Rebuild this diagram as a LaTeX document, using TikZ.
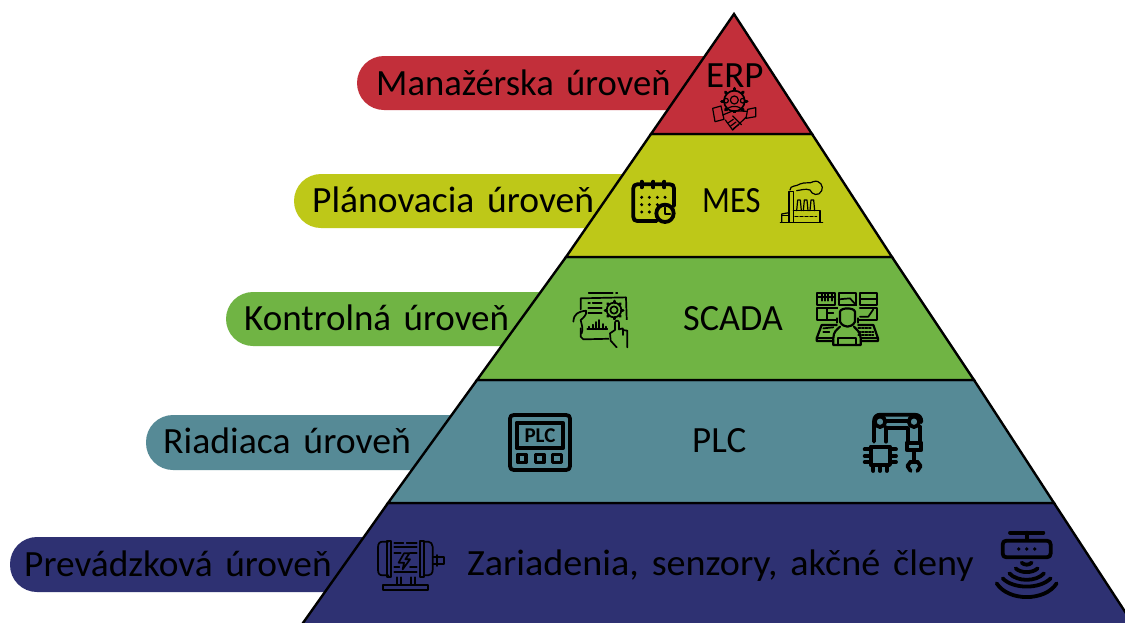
\documentclass[tikz,border=0pt]{standalone}
\usepackage{fontspec}
\setmainfont[WordSpace=1.5]{Carlito}
\definecolor{cred}{HTML}{C22F3A}
\definecolor{cyel}{HTML}{BEC818}
\definecolor{cgrn}{HTML}{70B444}
\definecolor{cteal}{HTML}{568A96}
\definecolor{cnavy}{HTML}{2E3172}
\tikzset{
  pill/.style={fill=#1,rounded corners=27pt},
  layer/.style={fill=#1,draw=black,line width=2.4pt,line join=miter},
  lab/.style={font=\fontsize{37}{37}\selectfont,text=black,inner sep=0pt,anchor=base west},
  ict/.style={draw=black,line width=1.2pt,line cap=round,line join=round,fill=none},
  ic/.style={draw=black,line width=1.7pt,line cap=round,line join=round,fill=none},
  icm/.style={draw=black,line width=2.2pt,line cap=round,line join=round,fill=none},
  icb/.style={draw=black,line width=3.8pt,line cap=round,line join=round,fill=none},
  zoomed/.style={x=0.33333pt,y=-0.33333pt}
}
\begin{document}
\begin{tikzpicture}[x=1pt,y=-1pt]
\useasboundingbox (0,0) rectangle (1125,622);
\fill[white] (0,0) rectangle (1125,622);
% pills
\fill[pill=cred]  (357,56)  rectangle (760,110);
\fill[pill=cyel]  (294,174) rectangle (680,228);
\fill[pill=cgrn]  (226,292) rectangle (600,346);
\fill[pill=cteal] (146,415) rectangle (520,470);
\fill[pill=cnavy] (10,537)  rectangle (440,592);
% layers
\draw[layer=cnavy] (388,503) -- (1054,503) -- (1137,630) -- (298,630) -- cycle;
\draw[layer=cteal] (477,380) -- (974,380) -- (1054,503) -- (388,503) -- cycle;
\draw[layer=cgrn]  (566,257) -- (892,257) -- (974,380) -- (477,380) -- cycle;
\draw[layer=cyel]  (651,134) -- (812,134) -- (892,257) -- (566,257) -- cycle;
\draw[layer=cred]  (734,14) -- (812,134) -- (651,134) -- cycle;
% labels
\node[lab] (l1) at (376,95)  {\scalebox{0.99}[1]{Manažérska úroveň}};
\node[lab] (l2) at (312,212) {\scalebox{1.015}[1]{Plánovacia úroveň}};
\node[lab] (l3) at (244,330) {\scalebox{1.0}[1]{Kontrolná úroveň}};
\node[lab] (l4) at (163,453) {\scalebox{1.02}[1]{Riadiaca úroveň}};
\node[lab] (l5) at (24,576)  {\scalebox{1.01}[1]{Prevádzková úroveň}};
\node[lab] (t1) at (706,87)  {ERP};
\node[lab] (t2) at (702,212) {\scalebox{0.88}[1]{MES}};
\node[lab] (t3) at (683,330) {\scalebox{0.98}[1]{SCADA}};
\node[lab] (t4) at (692,452) {PLC};
\node[lab] (t5) at (467,575) {\scalebox{1.03}[1]{Zariadenia, senzory, akčné členy}};

% ERP icon
\begin{scope}[shift={(620pt,0pt)},zoomed]
\draw[ic] (343,303) circle (31);
\foreach \a in {0,45,...,315}{\draw[ic,line width=3pt] (343,303)++(\a:33) -- ++(\a:5);}
\draw[ict] (343,300) circle (12);
\draw[ict] (321,332) .. controls (321,315) and (365,315) .. (365,332);
\draw[ict] (318,302) circle (7); \draw[ict] (368,302) circle (7);
\fill[cred] (312,338) rectangle (376,392);
\draw[ict] (278,325) -- (303,318) -- (312,358) -- (285,365) -- cycle;
\draw[ict] (407,323) -- (383,328) -- (378,355) -- (407,350) -- cycle;
\draw[ict] (308,345) -- (340,332) -- (380,334);
\draw[ict] (316,360) -- (338,390) -- (378,352);
\draw[ict] (338,348) -- (364,374);
\draw[ict] (325,368) -- (340,358); \draw[ict] (332,378) -- (348,366); \draw[ict] (340,386) -- (356,374);
\end{scope}

% calendar
\begin{scope}[shift={(620pt,0pt)},zoomed]
\draw[icb] (110,663) -- (52,663) .. controls (44,663) and (40,659) .. (40,651) -- (40,565) .. controls (40,557) and (44,553) .. (52,553) -- (150,553) .. controls (158,553) and (162,557) .. (162,565) -- (162,618);
\draw[icb] (65,545) -- (65,562); \draw[icb] (100,545) -- (100,562); \draw[icb] (133,545) -- (133,562);
\draw[icb] (135,640) circle (26);
\draw[ic,line width=2.4pt] (135,623) -- (135,642) -- (150,642);
\foreach \x in {65,88,112,135}{\fill (\x,592) circle (5);}
\foreach \x in {65,88,112}{\fill (\x,614) circle (5);}
\foreach \x in {65,88}{\fill (\x,636) circle (5);}
\end{scope}

% factory
\begin{scope}[shift={(620pt,0pt)},zoomed]
\draw[ict] (481,667) -- (608,667);
\draw[ict] (507,667) -- (507,575) -- (520,575) -- (520,667);
\draw[ict] (485,667) -- (485,642) -- (507,638);
\draw[ict] (520,632) -- (600,632) -- (600,667);
\draw[ict] (485,646) -- (507,646);
\draw[ict] (530,632) -- (533,600) -- (541,600) -- (544,632);
\draw[ict] (550,632) -- (553,600) -- (561,600) -- (564,632);
\draw[ict] (570,632) -- (573,600) -- (581,600) -- (584,632);
\draw[ict,dash pattern=on 3pt off 2pt] (525,649) -- (590,649);
\draw[ict] (510,570) .. controls (510,555) and (530,560) .. (540,552) .. controls (555,545) and (570,552) .. (580,545) .. controls (600,538) and (612,560) .. (605,572) .. controls (598,590) and (575,585) .. (570,570) .. controls (555,565) and (545,570) .. (530,572);
\end{scope}

% SCADA left
\begin{scope}[shift={(550pt,-270pt)},zoomed]
\draw[ic] (92,118) -- (92,85) -- (228,82) -- (232,205) -- (100,208) -- (92,200) -- (92,175);
\draw[ic] (116,68) -- (188,68); \draw[ic] (198,68) -- (202,68);
\draw[ic] (115,98) -- (120,98); \draw[ic] (128,98) -- (155,98);
\draw[ic] (115,113) -- (155,113); \draw[ic] (115,128) -- (155,128);
\draw[ic] (192,120) circle (11); \draw[ic] (192,120) circle (22);
\foreach \a in {0,45,...,315}{\draw[ic,line width=3pt] (192,120)++(\a:23) -- ++(\a:4);}
\draw[ic] (112,178) -- (172,178);
\foreach \x/\h in {118/8,128/14,138/22,148/28,158/16,168/8}{\draw[ic] (\x,178) -- (\x,178-\h);}
\draw[ic] (70,155) .. controls (72,130) and (85,125) .. (108,122) .. controls (112,135) and (98,145) .. (92,150) .. controls (96,170) and (100,175) .. (95,190);
\fill[cgrn] (178,150) rectangle (238,235);
\draw[ic] (195,158) -- (195,180) -- (180,190) -- (182,212) -- (200,232);
\draw[ic] (195,158) .. controls (195,150) and (207,150) .. (207,158) -- (207,178) -- (218,175) -- (218,180) -- (232,182) -- (232,232);
\draw[ic] (218,178) -- (218,195);
\end{scope}

% SCADA right
\begin{scope}[shift={(550pt,-270pt)},zoomed]
\draw[icm] (802,70) rectangle (856,106);
\draw[ic] (802,80) -- (856,80); \foreach \x in {815,825,835,845}{\draw[ic] (\x,70) -- (\x,92);}
\draw[icm] (866,70) rectangle (919,106);
\draw[ic] (866,88) -- (900,85) -- (919,106);
\draw[icm] (982,70) -- (930,70) -- (930,106) -- (982,106) -- cycle;
\draw[ic] (930,88) -- (982,88);
\draw[icm] (866,115) -- (802,115) -- (802,150) -- (860,150);
\draw[ic] (830,115) -- (830,150); \draw[ic] (830,130) -- (850,130);
\draw[icm] (930,115) -- (982,115) -- (982,150) -- (925,150);
\draw[ic] (930,140) -- (955,140) -- (970,118);
\fill[cgrn] (865,112) rectangle (920,165);
\draw[icm] (870,155) -- (870,125) .. controls (872,112) and (912,112) .. (915,125) -- (915,155) .. controls (905,175) and (880,175) .. (870,155);
\draw[icm] (862,145) -- (862,158) (923,145) -- (923,158);
\draw[icm] (870,170) .. controls (860,180) and (850,185) .. (850,205) -- (850,225) -- (932,225) -- (932,205) .. controls (932,185) and (920,180) .. (912,170);
\draw[icm] (865,225) -- (865,205) -- (917,205) -- (917,225);
\draw[icm] (850,213) -- (800,213) -- (800,205) -- (815,165) -- (860,165);
\draw[icm] (932,213) -- (984,213) -- (984,205) -- (970,165) -- (925,165);
\draw[ic] (800,205) -- (850,205) (932,205) -- (984,205);
\draw[ic] (820,175) -- (850,172); \draw[ic] (820,185) -- (838,185);
\draw[ic,dash pattern=on 2pt off 1.5pt] (925,175) -- (965,175) (925,185) -- (970,185) (925,195) -- (970,195);
\end{scope}

% PLC device
\begin{scope}[shift={(490pt,-400pt)},zoomed]
\draw[icb] (60,56) .. controls (60,48) and (64,45) .. (72,45) -- (228,45) .. controls (236,45) and (240,48) .. (240,56) -- (240,198) .. controls (240,206) and (236,210) .. (228,210) -- (72,210) .. controls (64,210) and (60,206) .. (60,198) -- cycle;
\draw[icb] (80,68) rectangle (219,145);
\node[inner sep=0pt,font=\bfseries\fontsize{21}{21}\selectfont] (plcicon) at (150,106) {PLC};
\draw[icb,line width=3.2pt] (84,163) rectangle (108,188);
\draw[icb,line width=3.2pt] (136,163) rectangle (162,188);
\draw[icb,line width=3.2pt] (188,163) rectangle (214,188);
\end{scope}

% Robot
\begin{scope}[shift={(490pt,-400pt)},zoomed]
\draw[icb] (1170,65) circle (16); \draw[icb] (1272,65) circle (16);
\draw[icb] (1152,125) -- (1152,65) .. controls (1152,50) and (1160,44) .. (1172,44) -- (1272,44) .. controls (1288,44) and (1294,52) .. (1294,66);
\draw[icb] (1190,62) -- (1252,62); \draw[icb] (1190,85) -- (1252,85);
\draw[icb] (1188,82) -- (1188,125); \draw[icb] (1254,85) -- (1254,125); \draw[icb] (1290,80) -- (1290,125);
\draw[icb] (1250,128) rectangle (1294,150);
\draw[icb] (1272,150) -- (1272,180);
\draw[icb] (1262,185) -- (1252,198) -- (1262,213);
\draw[icb] (1282,185) -- (1292,198) -- (1282,213);
\draw[icb] (1262,185) -- (1282,185);
\draw[icb] (1142,140) rectangle (1200,195);
\foreach \y in {148,168,186}{\draw[icb] (1124,\y) -- (1140,\y); \draw[icb] (1202,\y) -- (1218,\y);}
\foreach \x in {1150,1170,1190}{\draw[icb] (\x,197) -- (\x,213);}
\end{scope}

% Motor
\begin{scope}[shift={(360pt,-520pt)},zoomed]
\draw[ic] (85,65) -- (68,65) .. controls (58,65) and (54,72) .. (54,82) -- (54,150) .. controls (54,160) and (58,166) .. (68,166) -- (85,166);
\draw[ic] (82,62) rectangle (94,172);
\draw[ic] (180,62) rectangle (192,172);
\draw[ic] (192,65) -- (205,65) .. controls (212,65) and (218,72) .. (218,80) -- (218,150) .. controls (218,160) and (212,166) .. (205,166) -- (192,166);
\draw[ic] (218,112) -- (252,112) -- (252,132) -- (218,132);
\draw[ic] (232,105) -- (232,138);
\draw[ic] (103,68) -- (130,68); \draw[ic] (140,68) -- (170,68);
\draw[ic] (103,82) -- (170,82); \draw[ic] (103,155) -- (170,155); \draw[ic] (103,140) -- (118,140); \draw[ic] (150,140) -- (170,140);
\draw[ic] (103,100) -- (122,100); \draw[ic] (150,100) -- (170,100);
\draw[ic] (132,100) -- (148,100) -- (136,118) -- (150,118) -- (128,148) -- (132,128) -- (116,128) -- cycle;
\draw[ic] (110,172) -- (110,195); \draw[ic] (122,172) -- (122,195);
\draw[ic] (152,172) -- (152,195); \draw[ic] (165,172) -- (165,195);
\draw[ic] (68,195) rectangle (204,210);
\end{scope}

% Sensor
\begin{scope}[shift={(980pt,-520pt)},zoomed]
\draw[icb] (90,38) -- (190,38);
\draw[icb] (140,38) -- (140,60);
\draw[icb] (80,62) -- (200,62) .. controls (208,62) and (212,66) .. (212,74) -- (212,100) .. controls (212,108) and (208,112) .. (200,112) -- (80,112) .. controls (72,112) and (68,108) .. (68,100) -- (68,74) .. controls (68,66) and (72,62) .. (80,62) -- cycle;
\foreach \x in {116,140,164}{\fill (\x,87) circle (5.5);}
\draw[icb] (125,128) .. controls (133,136) and (147,136) .. (155,128);
\draw[icb] (107,145) .. controls (122,160) and (158,160) .. (173,145);
\draw[icb] (88,160) .. controls (112,186) and (168,186) .. (192,160);
\draw[icb] (68,175) .. controls (100,208) and (180,208) .. (212,175);
\draw[icb] (50,190) .. controls (85,245) and (195,245) .. (230,190);
\end{scope}
\end{tikzpicture}
\end{document}
